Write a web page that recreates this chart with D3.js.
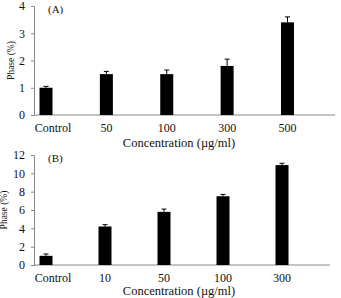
<!DOCTYPE html>
<html>
<head>
<meta charset="utf-8">
<script src="https://cdn.jsdelivr.net/npm/d3@7"></script>
<style>
  body { margin: 0; background: #fff; }
  svg text { font-family: "Liberation Serif", "DejaVu Serif", serif; fill: #111; }
</style>
</head>
<body>
<div class="chart"></div>
<script>
// panel A
const catsA = ['Control', '50', '100', '300', '500']
const valsA = [1.0, 1.5, 1.5, 1.8, 3.4]
const errA = [0.05, 0.1, 0.15, 0.25, 0.2]
const ticksA = [0, 1, 2, 3, 4]

// panel B
const catsB = ['Control', '10', '50', '100', '300']
const valsB = [1.0, 4.2, 5.8, 7.5, 10.9]
const errB = [0.2, 0.2, 0.3, 0.2, 0.2]
const ticksB = [0, 2, 4, 6, 8, 10, 12]

const svg = d3.select('.chart').append('svg').attr('width', 341).attr('height', 298)

function panel(opts) {
  const { top, bottom, left, right, yMax, cats, vals, errs, ticks, tag, firstX, lastX } = opts
  const g = svg.append('g')
  const y = d3.scaleLinear().domain([0, yMax]).range([bottom, top])
  const x = d3.scalePoint().domain(cats).range([firstX, lastX])

  // axes
  const yAxis = d3.axisLeft(y).tickValues(ticks).tickFormat(d3.format('d')).tickSize(3).tickPadding(6)
  const ya = g.append('g').attr('transform', `translate(${left},0)`).call(yAxis)
  ya.select('.domain').attr('stroke', '#888')
  ya.selectAll('.tick line').attr('stroke', '#888')
  ya.selectAll('text').attr('font-size', 12).attr('font-family', 'Liberation Serif')

  g.append('line').attr('x1', left).attr('x2', right).attr('y1', bottom).attr('y2', bottom)
    .attr('stroke', '#888').attr('stroke-width', 1)

  // bars
  const bw = 13
  g.selectAll('rect.bar').data(vals).join('rect')
    .attr('class', 'bar')
    .attr('x', (d, i) => x(cats[i]) - bw / 2)
    .attr('y', d => y(d))
    .attr('width', bw)
    .attr('height', d => bottom - y(d))
    .attr('fill', '#000')

  // error bars
  g.selectAll('line.err').data(vals).join('line')
    .attr('class', 'err')
    .attr('x1', (d, i) => x(cats[i])).attr('x2', (d, i) => x(cats[i]))
    .attr('y1', d => y(d)).attr('y2', (d, i) => y(d + errs[i]))
    .attr('stroke', '#000').attr('stroke-width', 1)
  g.selectAll('line.cap').data(vals).join('line')
    .attr('class', 'cap')
    .attr('x1', (d, i) => x(cats[i]) - 2.5).attr('x2', (d, i) => x(cats[i]) + 2.5)
    .attr('y1', (d, i) => y(d + errs[i])).attr('y2', (d, i) => y(d + errs[i]))
    .attr('stroke', '#000').attr('stroke-width', 1)

  // category labels
  g.selectAll('text.cat').data(cats).join('text')
    .attr('class', 'cat')
    .attr('x', (d, i) => x(d) + (i === 0 ? 7 : 0))
    .attr('y', bottom + 17)
    .attr('text-anchor', 'middle')
    .attr('font-size', 12)
    .text(d => d)

  g.append('text').attr('x', 179).attr('y', Math.min(bottom + 32, 295))
    .attr('text-anchor', 'middle').attr('font-size', 12.5)
    .text('Concentration (µg/ml)')

  g.append('text')
    .attr('transform', `translate(${opts.labelX},${(top + bottom) / 2}) rotate(-90)`)
    .attr('text-anchor', 'middle').attr('font-size', 9.5)
    .text('Phase (%)')

  g.append('text').attr('x', 48).attr('y', top + 7).attr('font-size', 11).text(tag)
}

panel({ top: 6, bottom: 115, left: 34, right: 335, yMax: 4, cats: catsA, vals: valsA, errs: errA,
  ticks: ticksA, tag: '(A)', firstX: 46, lastX: 287.5, labelX: 14 })
panel({ top: 155, bottom: 265, left: 34, right: 330, yMax: 12, cats: catsB, vals: valsB, errs: errB,
  ticks: ticksB, tag: '(B)', firstX: 46, lastX: 282, labelX: 7 })
</script>
</body>
</html>
